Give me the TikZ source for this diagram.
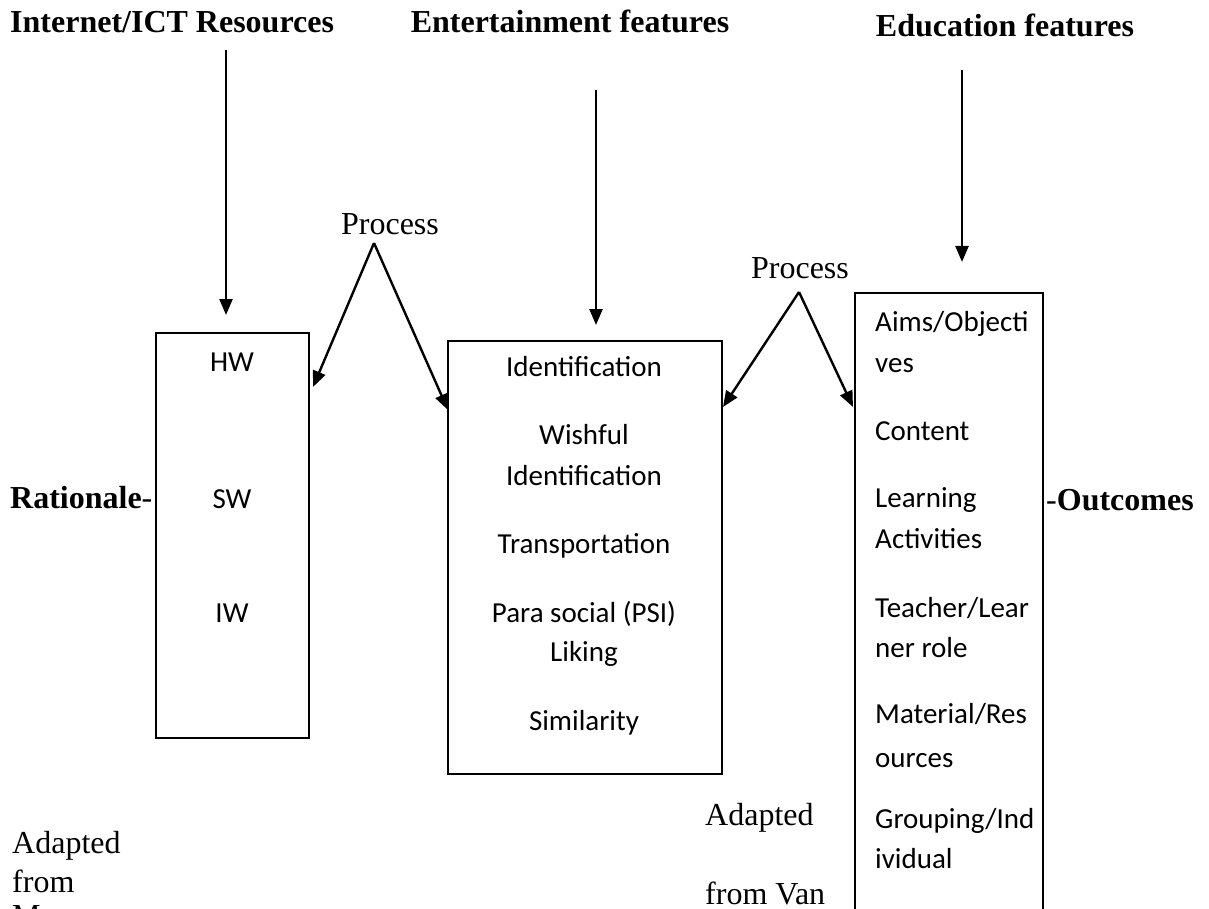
\documentclass[tikz,border=0pt]{standalone}
\usepackage{fontspec}
\setmainfont{Liberation Serif}
\newfontfamily\calfont{Carlito}
\usetikzlibrary{arrows.meta}
\begin{document}
\begin{tikzpicture}[x=1pt,y=-1pt,
  serif/.style={font=\fontsize{32}{38}\selectfont, inner sep=0pt, anchor=base},
  cal/.style={font=\calfont\fontsize{29}{35}\selectfont, inner sep=0pt, anchor=base},
  calw/.style={cal, anchor=base west},
  box/.style={draw, line width=1.8pt, inner sep=0pt, anchor=north west},
  arr/.style={line width=2.4pt, -{Triangle[length=16pt,width=13pt]}}]
\useasboundingbox (0,0) rectangle (1209,909);

% headings
\node[serif, anchor=base west] (h1) at (10,33) {\textbf{Internet/ICT Resources}};
\node[serif] (h2) at (570,33) {\textbf{Entertainment features}};
\node[serif] (h3) at (1005,37) {\textbf{Education features}};

% boxes
\node[box, minimum width=153pt, minimum height=405pt] (b1) at (155,332) {};
\node[box, minimum width=274pt, minimum height=433pt] (b2) at (447,340) {};
\node[box, minimum width=188pt, minimum height=660pt] (b3) at (854,292) {};

% box 1 text
\node[cal] (t11) at (232,371) {HW};
\node[cal] (t12) at (232,508) {SW};
\node[cal] (t13) at (232,622) {IW};

% box 2 text
\node[cal] (t21) at (584,376) {Identification};
\node[cal] (t22) at (584,444) {Wishful};
\node[cal] (t23) at (584,485) {Identification};
\node[cal] (t24) at (584,553) {Transportation};
\node[cal] (t25) at (584,622) {Para social (PSI)};
\node[cal] (t26) at (584,661) {Liking};
\node[cal] (t27) at (584,730) {Similarity};

% box 3 text
\node[calw] (t31) at (875,331) {Aims/Objecti};
\node[calw] (t32) at (875,372) {ves};
\node[calw] (t33) at (875,440) {Content};
\node[calw] (t34) at (875,507) {Learning};
\node[calw] (t35) at (875,548) {Activities};
\node[calw] (t36) at (875,617) {Teacher/Lear};
\node[calw] (t37) at (875,657) {ner role};
\node[calw] (t38) at (875,723) {Material/Res};
\node[calw] (t39) at (875,767) {ources};
\node[calw] (t3a) at (875,828) {Grouping/Ind};
\node[calw] (t3b) at (875,868) {ividual};

% side labels
\node[serif, anchor=base west] (rat) at (10,508) {\textbf{Rationale}-};
\node[serif, anchor=base west] (out) at (1046,510) {-\textbf{Outcomes}};

% process labels
\node[serif] (p1) at (390,235) {Process};
\node[serif] (p2) at (800,278) {Process};
\coordinate (p1a) at (374,243);
\coordinate (p2a) at (799,292);

% adapted notes
\node[serif, anchor=base west] (ad1) at (12,853) {Adapted};
\node[serif, anchor=base west] (ad2) at (12,892) {from};
\node[serif, anchor=base west] (ad3) at (12,926) {M};
\node[serif, anchor=base west] (ad4) at (705,825) {Adapted};
\node[serif, anchor=base west] (ad5) at (705,904) {from Van};

% vertical arrows
\coordinate (a1s) at (226,50);  \coordinate (a1e) at (226,315);
\coordinate (a2s) at (596,90);  \coordinate (a2e) at (596,325);
\coordinate (a3s) at (962,70);  \coordinate (a3e) at (962,262);
\draw[arr] (a1s) -- (a1e);
\draw[arr] (a2s) -- (a2e);
\draw[arr] (a3s) -- (a3e);

% process arrows
\coordinate (q1) at (313,387);
\coordinate (q2) at (448,410);
\coordinate (q3) at (723,407);
\coordinate (q4) at (853,407);
\draw[arr] (p1a) -- (q1);
\draw[arr] (p1a) -- (q2);
\draw[arr] (p2a) -- (q3);
\draw[arr] (p2a) -- (q4);
\end{tikzpicture}
\end{document}
